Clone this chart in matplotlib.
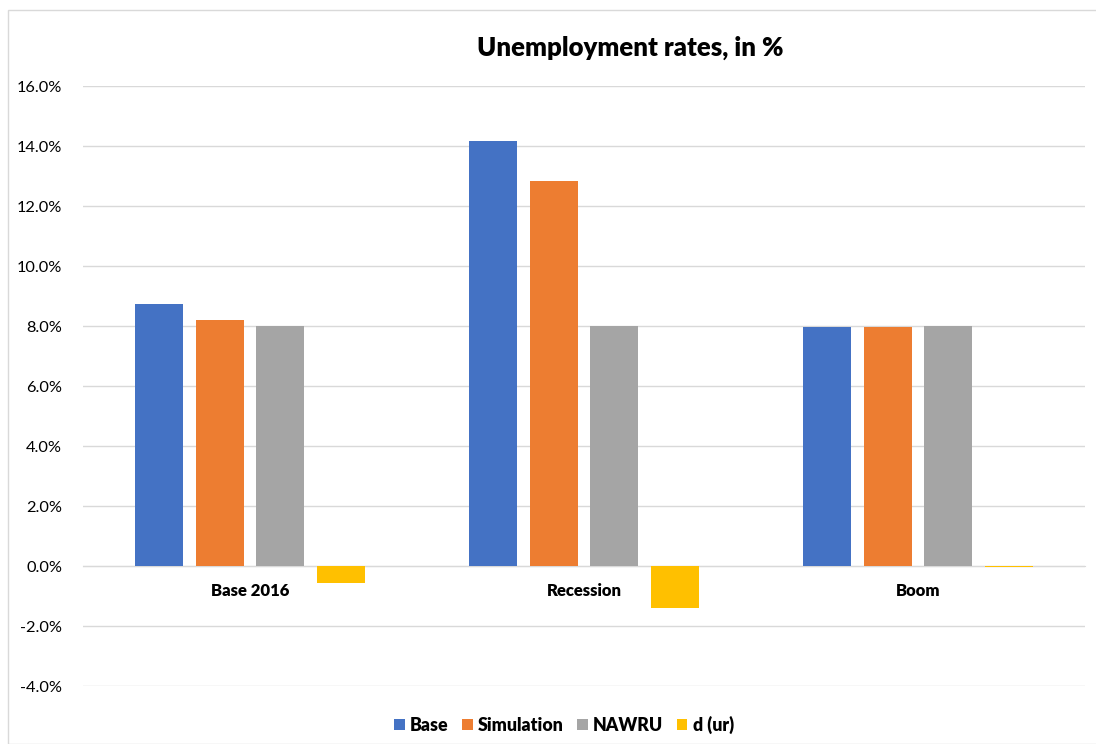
import numpy as np
import matplotlib
matplotlib.use("Agg")
import matplotlib.pyplot as plt
from matplotlib.patches import Rectangle
from matplotlib.ticker import FuncFormatter

categories = ["Base 2016", "Recession", "Boom"]
series_names = ["Base", "Simulation", "NAWRU", "d (ur)"]
base = [8.75, 14.18, 7.98]
simulation = [8.19, 12.82, 7.96]
nawru = [7.99, 7.99, 7.99]
d_ur = [-0.57, -1.40, -0.02]
colors = ["#4472C4", "#ED7D31", "#A5A5A5", "#FFC000"]
yticks = [-4, -2, 0, 2, 4, 6, 8, 10, 12, 14, 16]

plt.rcParams["font.family"] = ["Lato", "DejaVu Sans"]

W, H = 1096, 744
fig = plt.figure(figsize=(W / 100, H / 100), dpi=100)
fig.patch.set_facecolor("white")

# chart-area border
fig.add_artist(Rectangle((8 / W, 0), 1.2, 1 - 10 / H, transform=fig.transFigure,
                         fill=False, edgecolor="#d9d9d9", linewidth=1.0))

ax = fig.add_axes([83 / W, 1 - 686 / H, (1085 - 83) / W, (686 - 86) / H])

x = np.arange(len(categories))
width = 0.1437
step = 0.1817
for i, (vals, name, c) in enumerate(zip([base, simulation, nawru, d_ur], series_names, colors)):
    ax.bar(x + (i - 1.5) * step, vals, width=width, color=c, label=name, zorder=3)

ax.set_xlim(-0.5, 2.5)
ax.set_ylim(-4, 16)
ax.set_yticks(yticks)
ax.yaxis.set_major_formatter(FuncFormatter(lambda v, p: f"{v:.1f}%"))
ax.grid(axis="y", color="#d9d9d9", linewidth=1.0, zorder=0)
ax.set_axisbelow(True)

for s in ["top", "right", "left"]:
    ax.spines[s].set_visible(False)
ax.spines["bottom"].set_position(("data", 0))
ax.spines["bottom"].set_color("#d9d9d9")
ax.spines["bottom"].set_zorder(2)

ax.set_xticks(x)
ax.set_xticklabels(categories, fontweight="heavy", fontsize=12, color="#000000")
ax.tick_params(axis="x", length=0, pad=12)
ax.tick_params(axis="y", length=0, labelsize=11.8, labelcolor="#000000", pad=15)

fig.text(630 / W, 1 - 48 / H, "Unemployment rates, in %", ha="center", va="center",
         fontsize=18.5, fontweight="heavy", color="#000000")

leg = fig.legend(loc="center", bbox_to_anchor=(564 / W, 1 - 725 / H), ncol=4,
                 frameon=False, prop={"weight": "heavy", "size": 12.8},
                 handlelength=0.6, handleheight=0.6, handletextpad=0.3, columnspacing=0.75)

fig.savefig("out.png", dpi=100)
